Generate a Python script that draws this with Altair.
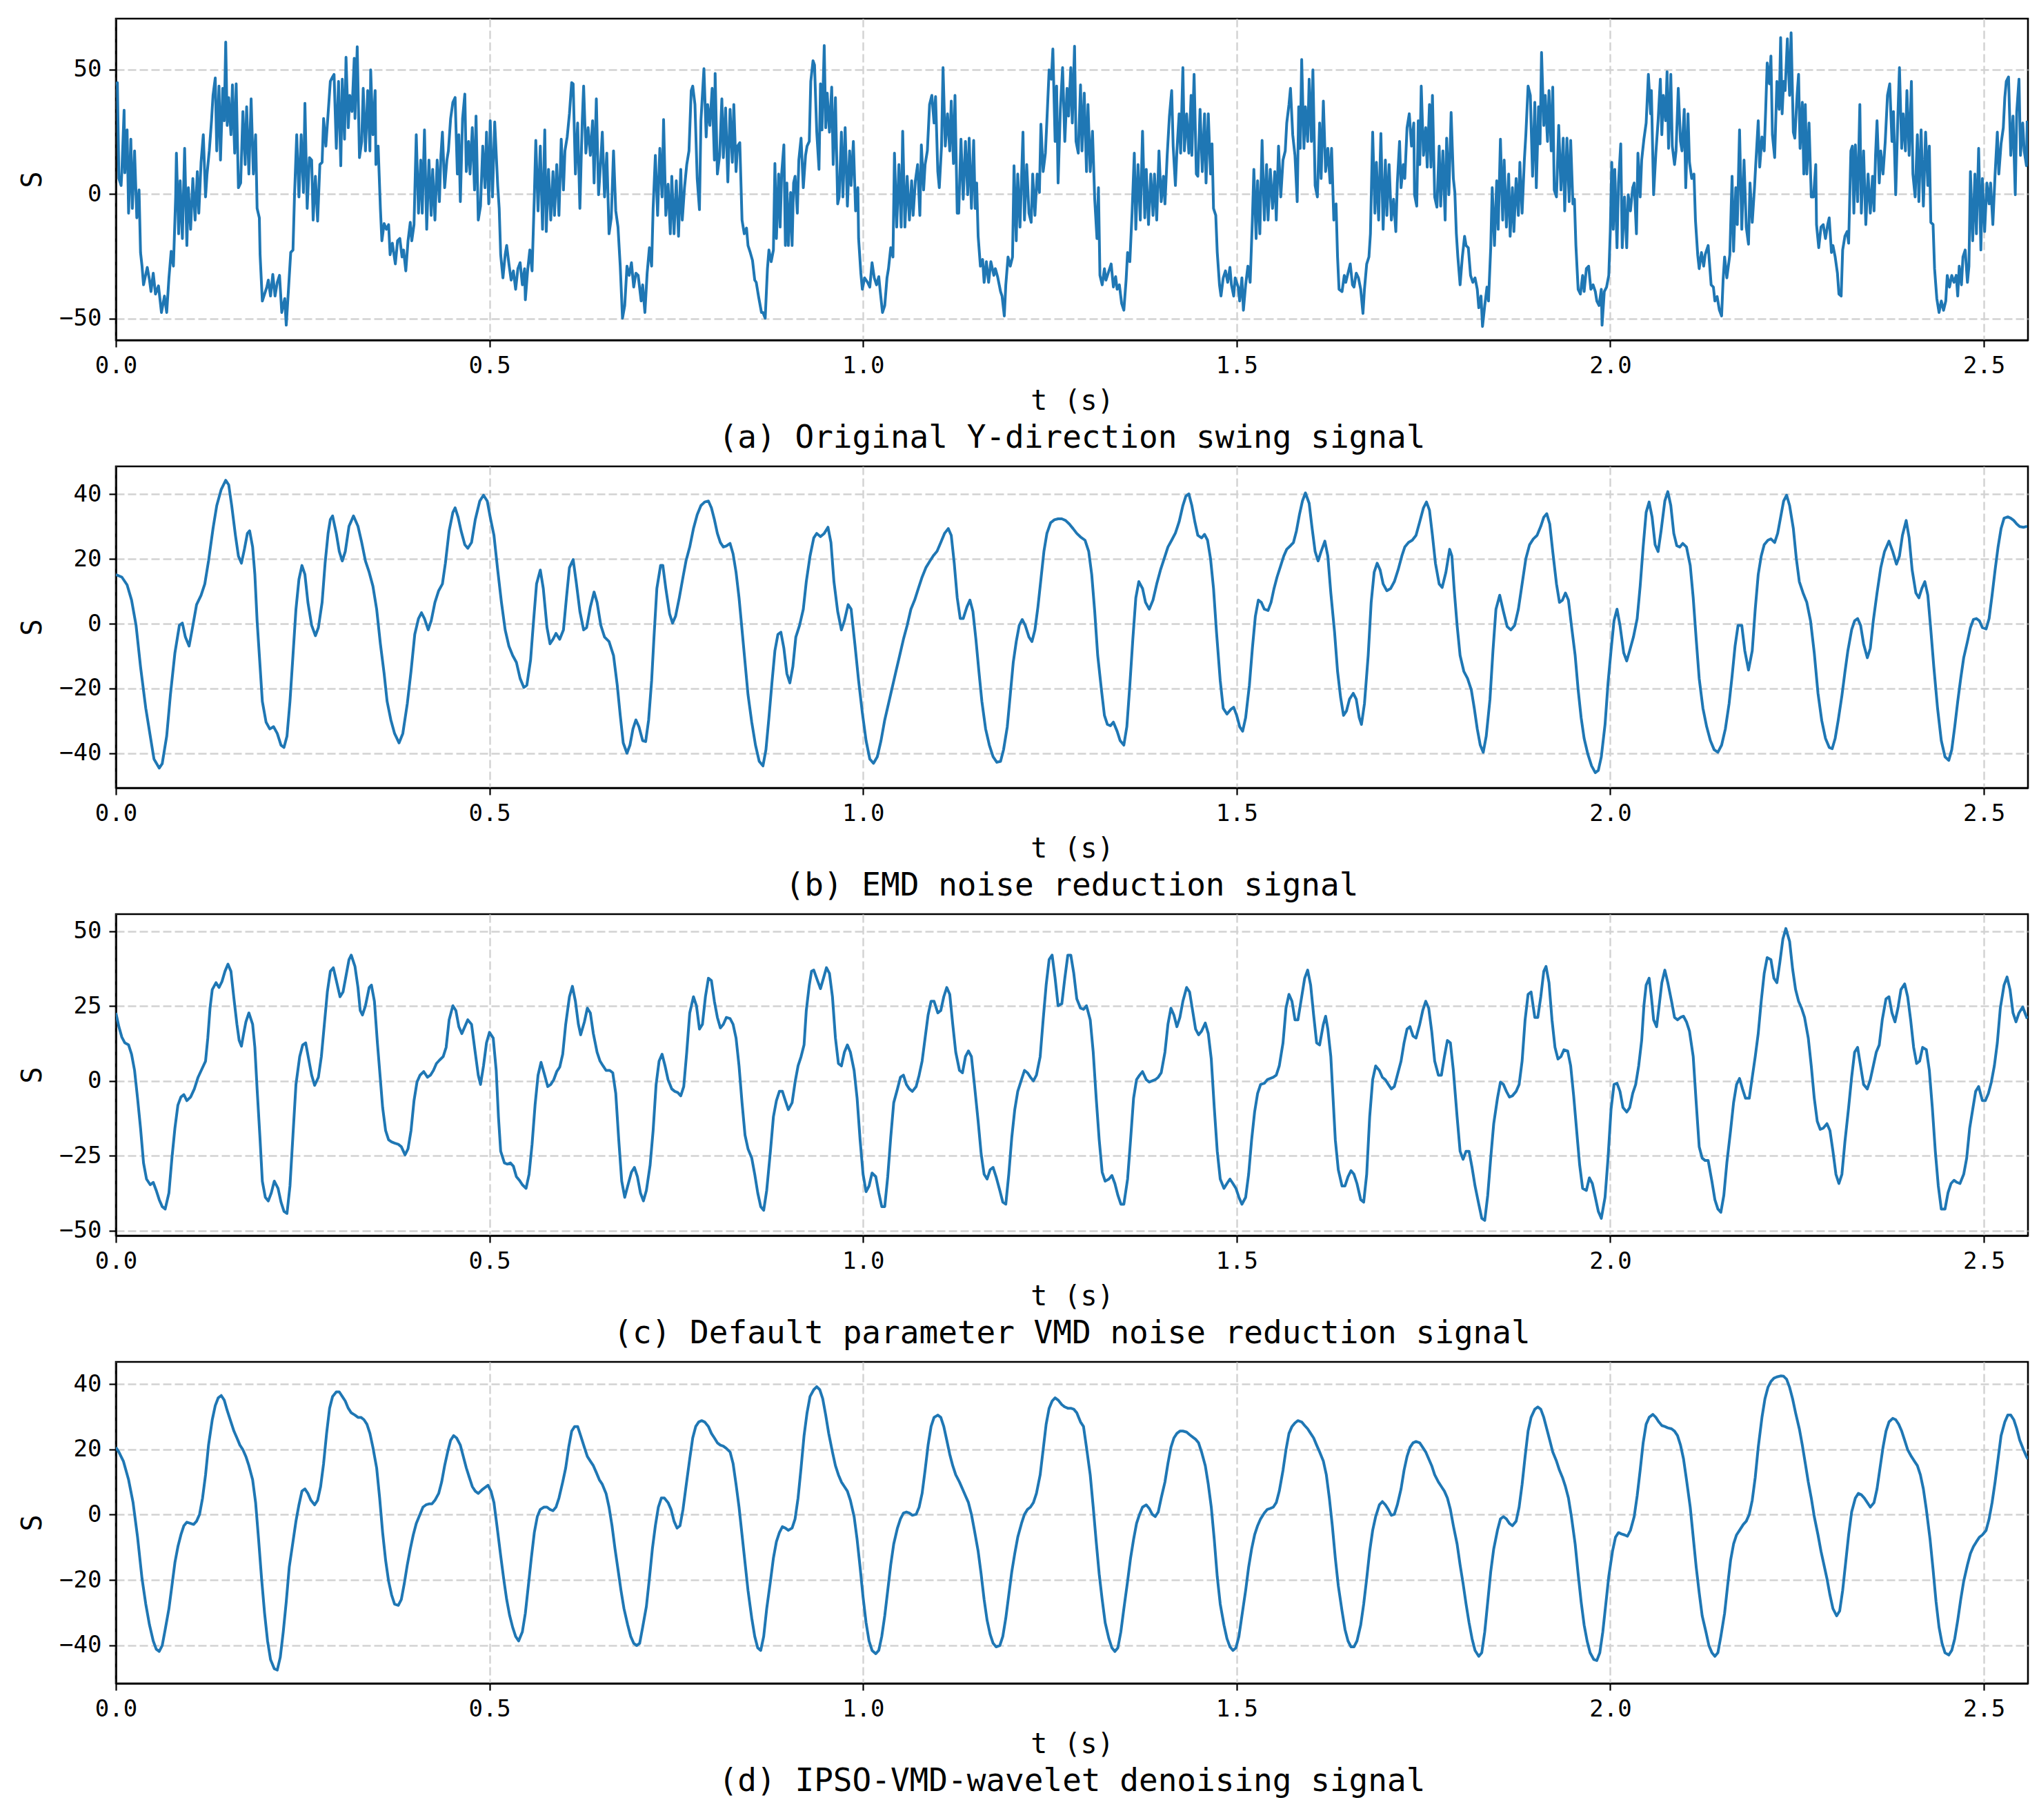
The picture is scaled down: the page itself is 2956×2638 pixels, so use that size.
import altair as alt
import pandas as pd

FONT = "DejaVu Sans Mono"
BLUE = "#1f77b4"
T_END = 2.559
X_TICKS = [0.0, 0.5, 1.0, 1.5, 2.0, 2.5]

# ---------------- (a) original signal: (t [s], S) ----------------
sig_a1 = [(0.0,44.0),(0.002,44.7),(0.004,6.2),(0.007,3.4),(0.008,9.0),(0.011,33.6),(0.012,8.5),(0.015,25.7),(0.017,-7.7),(0.020,22.0),(0.022,-5.8),(0.025,17.3),(0.028,-9.6),(0.031,1.6),(0.033,-23.5),(0.035,-29.0),(0.037,-36.5),(0.042,-29.5),(0.045,-34.6),(0.047,-39.2),(0.050,-31.8),(0.053,-40.2),(0.057,-36.9),(0.061,-47.6),(0.065,-41.0),(0.068,-47.6),(0.071,-33.7),(0.074,-23.0),(0.077,-29.0),(0.080,-1.2),(0.081,16.4),(0.084,-16.0),(0.086,5.3),(0.089,-17.9),(0.092,18.3),(0.095,-20.7),(0.097,2.5),(0.100,-14.2),(0.103,6.2),(0.106,-10.5),(0.109,9.0),(0.111,-7.7),(0.114,12.7),(0.117,23.8),(0.120,-1.2),(0.122,8.0),(0.125,17.3),(0.128,29.4),(0.130,39.6),(0.133,46.6),(0.135,17.3),(0.138,43.3),(0.140,13.6),(0.143,42.4),(0.145,29.4),(0.147,61.0),(0.149,27.5),(0.151,38.7),(0.154,23.8),(0.156,43.8),(0.159,16.4),(0.161,44.2),(0.164,2.5),(0.167,4.4),(0.170,33.1),(0.173,11.8),(0.175,35.0),(0.178,8.0),(0.181,38.2),(0.184,8.0),(0.187,23.8),(0.189,-5.8),(0.192,-9.6),(0.193,-24.4),(0.196,-43.0),(0.199,-40.2),(0.202,-37.4),(0.204,-34.6),(0.207,-41.0),(0.210,-32.3),(0.213,-41.0),(0.216,-35.5),(0.219,-32.7),(0.222,-47.6),(0.226,-42.0),(0.228,-52.7),(0.231,-38.3),(0.234,-23.5),(0.237,-22.5),(0.239,-1.2),(0.242,23.8),(0.245,-1.2),(0.248,23.8),(0.251,0.6),(0.253,36.4),(0.256,-5.8),(0.259,14.6),(0.262,13.6),(0.264,-10.5),(0.267,7.1),(0.270,-10.9),(0.273,11.8),(0.276,12.7),(0.278,30.3),(0.281,19.2),(0.284,32.2),(0.287,45.2),(0.290,47.0),(0.292,48.0),(0.295,18.3),(0.298,45.2),(0.301,11.3),(0.303,46.1),(0.306,22.0),(0.308,54.9),(0.311,26.6),(0.313,39.6),(0.316,33.1),(0.319,54.5),(0.320,30.3),(0.323,59.1),(0.326,14.6),(0.329,21.1),(0.331,42.4),(0.334,17.3),(0.337,41.5),(0.340,17.3),(0.341,49.8),(0.344,23.8),(0.347,41.5),(0.348,11.8),(0.351,19.2),(0.354,-5.8),(0.356,-18.8),(0.359,-11.9),(0.362,-14.2),(0.365,-12.3),(0.367,-24.4),(0.370,-19.8),(0.374,-28.1),(0.377,-18.8),(0.380,-17.9),(0.383,-25.3),(0.385,-22.5),(0.388,-30.9),(0.391,-18.8),(0.394,-11.4),(0.396,-18.8),(0.399,-12.3),(0.402,23.8),(0.405,-7.7),(0.408,13.6),(0.410,-7.7),(0.413,25.7),(0.416,-14.2),(0.419,13.6),(0.422,-8.6),(0.424,9.9),(0.427,-10.5),(0.430,13.6),(0.433,-3.1),(0.435,15.5),(0.437,24.8),(0.440,2.5),(0.443,13.6),(0.445,17.3),(0.448,30.3),(0.451,36.8),(0.454,38.7),(0.457,8.0),(0.459,23.8),(0.461,-3.1),(0.464,30.3),(0.467,40.1),(0.469,9.0),(0.472,21.1),(0.474,8.0),(0.477,26.6),(0.480,1.6),(0.482,31.3),(0.485,-10.5),(0.488,-4.9),(0.491,19.2),(0.494,2.5),(0.496,24.8),(0.499,-4.0),(0.501,29.4),(0.504,-1.2),(0.507,28.9),(0.511,3.4),(0.513,-5.8),(0.515,-24.4),(0.518,-33.7),(0.521,-24.4),(0.523,-20.7),(0.526,-28.1),(0.529,-34.6),(0.532,-30.9),(0.535,-38.3),(0.538,-30.0),(0.541,-27.6),(0.544,-36.5),(0.547,-30.0),(0.548,-42.5),(0.551,-30.9),(0.554,-22.5),(0.557,-30.9),(0.560,-1.2),(0.562,21.5),(0.565,-6.8),(0.568,19.2),(0.571,-14.2),(0.574,25.7),(0.576,-15.1),(0.579,9.9),(0.582,-10.5),(0.585,9.0),(0.587,-8.6),(0.590,11.8),(0.593,-8.6),(0.596,22.0),(0.599,1.6),(0.601,17.3),(0.604,22.9),(0.607,32.2),(0.610,44.7),(0.612,44.2),(0.615,8.0),(0.618,28.5),(0.621,-5.8),(0.624,28.0),(0.626,43.3),(0.629,16.4),(0.632,26.6),(0.635,15.5),(0.638,29.4),(0.640,4.4),(0.643,38.2),(0.646,-0.3),(0.649,13.6),(0.651,24.8),(0.654,-1.2),(0.657,16.4),(0.660,-16.0),(0.663,-9.6),(0.666,17.3),(0.669,-6.8),(0.672,-13.3),(0.675,-29.0),(0.678,-49.9),(0.681,-44.8),(0.684,-29.0),(0.687,-32.7),(0.690,-27.6),(0.693,-37.4),(0.696,-31.8),(0.699,-32.7),(0.703,-43.0),(0.705,-36.5),(0.708,-47.6),(0.711,-31.8),(0.714,-21.6),(0.717,-29.0),(0.719,-5.8),(0.722,15.5),(0.725,-8.6),(0.728,18.3),(0.731,-1.2),(0.733,29.9),(0.736,-8.6),(0.739,3.9),(0.742,-16.0),(0.744,7.1),(0.747,-16.0),(0.750,5.3),(0.753,-17.0),(0.756,9.9),(0.758,-10.5),(0.761,2.5),(0.764,11.8),(0.767,17.3),(0.770,41.5),(0.772,43.3),(0.775,35.9),(0.778,6.2),(0.781,-6.3),(0.783,29.4),(0.787,50.3),(0.790,22.9),(0.792,35.9),(0.795,27.5),(0.798,42.4),(0.801,13.6),(0.802,48.4),(0.805,8.0),(0.808,15.5),(0.811,38.2),(0.813,14.6),(0.816,34.5),(0.819,4.8),(0.822,34.0),(0.825,12.7),(0.827,35.9),(0.830,9.0),(0.832,19.2),(0.835,20.6),(0.838,-10.5),(0.841,-16.0),(0.844,-13.7),(0.846,-20.7),(0.849,-23.5),(0.852,-26.7),(0.855,-34.6),(0.857,-35.5),(0.860,-41.0),(0.864,-47.6)]
sig_a2 = [(0.866,-47.6),(0.869,-49.9),(0.872,-30.0),(0.874,-22.5),(0.877,-27.2),(0.880,-22.5),(0.882,12.2),(0.884,-17.9),(0.887,8.0),(0.889,-13.3),(0.891,8.0),(0.894,19.7),(0.896,-20.7),(0.898,4.4),(0.900,-20.7),(0.903,0.6),(0.905,-20.7),(0.907,4.4),(0.909,7.1),(0.912,-7.7),(0.914,13.6),(0.917,22.4),(0.920,2.5),(0.923,15.5),(0.925,19.2),(0.928,21.1),(0.930,45.2),(0.933,53.5),(0.935,51.8),(0.938,24.8),(0.941,9.9),(0.943,44.2),(0.945,25.7),(0.948,59.6),(0.950,26.6),(0.952,40.5),(0.955,24.8),(0.958,42.9),(0.960,11.8),(0.963,38.7),(0.966,-4.0),(0.968,-1.2),(0.971,24.8),(0.973,-1.2),(0.976,26.6),(0.979,-4.9),(0.982,17.3),(0.984,3.4),(0.987,21.1),(0.990,-6.8),(0.993,2.5),(0.994,-17.9),(0.997,-31.8),(0.999,-38.3),(1.002,-33.7),(1.006,-35.5),(1.009,-37.4),(1.012,-27.6),(1.015,-33.7),(1.018,-36.5),(1.021,-33.2),(1.023,-39.2),(1.026,-47.6),(1.029,-44.8),(1.032,-33.7),(1.034,-30.0),(1.037,-21.6),(1.040,-25.3),(1.042,16.4),(1.045,-13.3),(1.048,11.8),(1.051,-13.3),(1.053,25.2),(1.056,-13.3),(1.059,7.1),(1.062,-10.5),(1.065,5.3),(1.067,-8.6),(1.070,5.3),(1.073,11.8),(1.076,-8.6),(1.078,19.7),(1.081,1.6),(1.083,11.8),(1.086,17.3),(1.089,35.9),(1.092,39.6),(1.095,28.5),(1.097,39.1),(1.100,9.0),(1.102,2.5),(1.105,19.2),(1.107,50.7),(1.110,19.2),(1.113,32.2),(1.116,17.3),(1.118,37.3),(1.121,12.2),(1.123,39.6),(1.126,-7.7),(1.128,-7.7),(1.131,22.0),(1.134,-2.1),(1.137,21.1),(1.140,-0.3),(1.142,22.4),(1.145,-5.8),(1.148,21.5),(1.150,-5.8),(1.152,4.4),(1.154,-17.0),(1.157,-29.0),(1.160,-26.3),(1.162,-35.5),(1.165,-27.2),(1.168,-35.5),(1.171,-27.2),(1.175,-32.7),(1.177,-30.0),(1.180,-33.2),(1.184,-39.2),(1.186,-41.0),(1.189,-49.0),(1.191,-36.5),(1.194,-25.3),(1.197,-29.0),(1.200,-25.3),(1.202,11.3),(1.205,-18.8),(1.207,8.0),(1.210,-13.3),(1.214,24.8),(1.216,-10.5),(1.219,11.8),(1.222,-7.7),(1.225,-11.4),(1.227,8.0),(1.230,-8.6),(1.233,8.0),(1.236,0.6),(1.238,28.0),(1.241,9.0),(1.244,16.4),(1.246,29.4),(1.249,49.8),(1.252,46.1),(1.254,58.2),(1.257,21.1),(1.259,43.3),(1.261,4.4),(1.264,34.0),(1.267,50.7),(1.270,21.1),(1.273,42.4),(1.275,31.3),(1.278,50.7),(1.280,28.5),(1.283,59.3),(1.285,21.1),(1.288,16.4),(1.291,43.8),(1.293,17.3),(1.296,40.5),(1.299,9.0),(1.301,35.9),(1.304,9.0),(1.307,25.2),(1.310,-2.1),(1.313,-17.9),(1.315,2.5),(1.317,-32.7),(1.320,-36.5),(1.323,-30.0),(1.325,-34.6),(1.329,-30.9),(1.332,-28.1),(1.335,-37.4),(1.338,-33.2),(1.340,-38.3),(1.343,-36.5),(1.346,-43.9),(1.349,-46.7),(1.352,-34.6),(1.354,-23.5),(1.357,-27.2),(1.360,-7.7),(1.363,16.4),(1.365,-14.2),(1.368,11.8),(1.371,-10.5),(1.374,25.2),(1.377,-9.6),(1.379,9.9),(1.382,-12.3),(1.385,8.0),(1.388,-8.6),(1.390,8.0),(1.393,-10.5),(1.396,17.3),(1.399,-3.1),(1.402,7.1),(1.404,-4.0),(1.407,15.5),(1.410,31.3),(1.413,41.5),(1.415,19.2),(1.418,3.4),(1.420,17.3),(1.423,32.2),(1.425,16.4),(1.428,50.7),(1.430,17.3),(1.433,32.2),(1.436,16.4),(1.439,39.6),(1.440,15.5),(1.443,48.0),(1.446,8.0),(1.448,7.1),(1.451,34.0),(1.454,9.0),(1.457,32.2),(1.459,4.4),(1.462,32.2),(1.465,8.0),(1.467,20.1),(1.469,-5.8),(1.472,-8.6),(1.474,-23.5),(1.477,-36.5),(1.479,-41.0),(1.482,-33.7),(1.485,-30.9),(1.488,-35.5),(1.491,-29.5),(1.493,-36.5),(1.496,-41.0),(1.498,-33.7),(1.502,-37.4),(1.504,-43.0),(1.507,-33.7),(1.509,-46.7),(1.512,-36.5),(1.515,-29.0),(1.518,-35.5),(1.521,-10.5),(1.523,9.9),(1.526,-17.9),(1.528,5.3),(1.531,-16.0),(1.534,21.5),(1.537,-10.5),(1.540,11.8),(1.542,-10.5),(1.545,9.9),(1.548,-5.8),(1.551,9.0),(1.553,-10.5),(1.556,19.2),(1.559,-1.2),(1.562,13.6),(1.565,17.3),(1.567,28.5),(1.570,35.9),(1.572,42.4),(1.575,23.8),(1.578,15.5),(1.581,-3.1),(1.583,35.0),(1.585,18.3),(1.587,54.0),(1.590,18.3),(1.592,35.0),(1.595,21.1),(1.597,46.1),(1.600,21.1),(1.602,49.8),(1.605,3.4),(1.608,-1.2),(1.611,28.5),(1.613,6.2),(1.616,37.3),(1.619,9.0),(1.622,18.3),(1.625,4.4),(1.627,18.3),(1.630,-10.5),(1.633,-4.0),(1.635,-25.3),(1.637,-38.3),(1.641,-39.2),(1.644,-32.7),(1.646,-35.5),(1.649,-31.8),(1.652,-28.1),(1.655,-36.5),(1.657,-37.4),(1.660,-31.8),(1.663,-33.7),(1.666,-38.3),(1.669,-48.0),(1.671,-38.3),(1.674,-28.1),(1.677,-25.3),(1.679,-16.0),(1.682,24.8),(1.685,-7.7),(1.687,12.7),(1.690,-10.5),(1.693,24.3),(1.696,-14.2),(1.699,13.6),(1.701,-8.6),(1.704,11.8),(1.707,-10.5),(1.710,-2.1),(1.713,-15.1),(1.715,4.4),(1.718,21.1)]
sig_a3 = [(1.720,2.5),(1.723,11.8),(1.725,6.2),(1.728,26.6),(1.731,32.2),(1.734,19.2),(1.737,28.5),(1.738,-0.3),(1.741,-4.9),(1.743,29.4),(1.745,11.8),(1.747,43.3),(1.750,15.5),(1.753,26.6),(1.755,10.8),(1.758,35.9),(1.760,10.8),(1.762,39.6),(1.765,-1.2),(1.768,-5.3),(1.771,19.2),(1.773,-4.9),(1.776,17.3),(1.779,-10.5),(1.781,22.4),(1.784,-0.3),(1.787,32.7),(1.790,6.2),(1.792,0.6),(1.794,-16.0),(1.796,-25.3),(1.799,-36.5),(1.802,-25.3),(1.805,-17.0),(1.807,-20.7),(1.810,-21.6),(1.813,-32.7),(1.816,-35.5),(1.819,-33.7),(1.822,-38.3),(1.824,-45.7),(1.827,-41.0),(1.829,-53.2),(1.832,-44.8),(1.835,-37.4),(1.837,-43.0),(1.840,-21.6),(1.842,2.5),(1.845,-20.7),(1.848,5.3),(1.850,-14.2),(1.853,22.0),(1.856,-10.5),(1.858,13.6),(1.861,-13.3),(1.864,8.0),(1.866,-17.0),(1.869,2.5),(1.871,-15.1),(1.874,6.2),(1.877,-8.6),(1.879,12.7),(1.882,-7.7),(1.885,13.6),(1.887,23.8),(1.890,43.3),(1.893,39.6),(1.896,7.1),(1.899,36.8),(1.901,2.5),(1.904,35.0),(1.906,20.1),(1.908,56.8),(1.911,27.5),(1.913,39.6),(1.916,21.1),(1.918,41.5),(1.921,17.3),(1.923,42.9),(1.925,1.6),(1.928,-1.2),(1.931,27.5),(1.934,1.6),(1.937,22.4),(1.939,-6.8),(1.942,22.4),(1.945,-3.1),(1.947,21.5),(1.950,-4.0),(1.952,-2.1),(1.954,-20.7),(1.957,-38.3),(1.960,-40.2),(1.963,-32.7),(1.965,-39.2),(1.968,-30.0),(1.971,-29.0),(1.974,-38.3),(1.977,-36.5),(1.980,-39.2),(1.982,-43.0),(1.985,-44.8),(1.988,-38.3),(1.989,-52.7),(1.992,-39.2),(1.995,-37.4),(1.998,-32.7),(2.000,-15.1),(2.002,12.7),(2.004,-14.2),(2.006,9.9),(2.009,-21.6),(2.011,4.4),(2.014,20.1),(2.016,-21.6),(2.019,-1.2),(2.022,-21.6),(2.024,-0.3),(2.027,-6.8),(2.030,2.5),(2.032,4.4),(2.035,-16.0),(2.037,16.4),(2.040,-1.2),(2.042,13.6),(2.045,22.0),(2.048,28.5),(2.051,48.0),(2.054,32.2),(2.055,41.5),(2.058,-0.3),(2.061,16.4),(2.064,29.4),(2.067,46.1),(2.069,23.8),(2.071,39.6),(2.074,29.4),(2.076,49.1),(2.078,18.3),(2.081,48.0),(2.083,19.2),(2.086,11.8),(2.088,17.3),(2.091,42.4),(2.094,21.1),(2.096,17.3),(2.099,34.0),(2.101,2.5),(2.104,32.2),(2.106,12.7),(2.109,6.2),(2.112,8.0),(2.114,-10.5),(2.117,-24.4),(2.119,-30.0),(2.122,-23.5),(2.125,-29.0),(2.127,-24.4),(2.131,-20.7),(2.135,-36.5),(2.138,-37.4),(2.140,-43.0),(2.143,-41.2),(2.146,-46.6),(2.149,-49.0),(2.151,-34.6),(2.153,-25.3),(2.156,-33.7),(2.160,-24.4),(2.163,7.1),(2.165,-23.0),(2.168,2.5),(2.170,-12.3),(2.173,25.7),(2.176,-14.2),(2.179,13.6),(2.182,-13.3),(2.185,-20.2),(2.187,4.4),(2.190,-11.4),(2.193,2.5),(2.195,13.6),(2.198,29.4),(2.200,10.8),(2.203,22.9),(2.206,17.3),(2.208,34.0),(2.210,52.6),(2.213,44.2),(2.215,55.4),(2.217,23.8),(2.220,14.6),(2.223,45.2),(2.226,34.0),(2.228,62.8),(2.230,32.2),(2.232,45.2),(2.234,41.5),(2.237,62.3),(2.240,39.6),(2.242,64.7),(2.245,24.8),(2.247,22.4),(2.250,39.6),(2.252,48.0),(2.254,18.3),(2.257,36.8),(2.259,8.0),(2.261,35.9),(2.263,8.0),(2.266,28.5),(2.269,-1.2),(2.272,-1.2),(2.275,11.8),(2.276,-12.3),(2.279,-21.6),(2.282,-13.3),(2.285,-12.3),(2.288,-17.9),(2.291,-12.3),(2.293,-9.6),(2.296,-23.5),(2.298,-20.7),(2.301,-25.3),(2.304,-31.8),(2.306,-40.2),(2.309,-41.0),(2.311,-22.5),(2.314,-17.0),(2.317,-15.1),(2.319,-19.8),(2.322,17.3),(2.324,19.2),(2.326,-7.7),(2.328,19.7),(2.331,-3.1),(2.334,35.9),(2.336,-7.7),(2.339,17.3),(2.342,-12.3),(2.345,8.0),(2.348,-7.7),(2.351,7.1),(2.353,-6.8),(2.355,15.5),(2.357,29.4),(2.360,4.4),(2.362,17.3),(2.365,8.0),(2.368,21.1),(2.371,39.6),(2.374,44.2),(2.377,21.1),(2.379,33.1),(2.382,-0.3),(2.385,32.2),(2.387,50.7),(2.390,18.3),(2.392,32.2),(2.395,17.3),(2.397,41.5),(2.400,15.5),(2.403,45.2),(2.405,8.0),(2.408,-1.2),(2.411,23.8),(2.413,-3.1),(2.416,25.7),(2.419,-4.9),(2.422,24.8),(2.425,3.4),(2.427,19.2),(2.429,-11.4),(2.432,-12.3),(2.434,-30.0),(2.437,-42.0),(2.440,-47.6),(2.443,-43.0),(2.446,-46.7),(2.449,-43.0),(2.451,-32.7),(2.454,-37.4),(2.457,-32.7),(2.460,-35.5),(2.463,-32.7),(2.465,-41.0),(2.467,-29.0),(2.470,-36.5),(2.472,-25.3),(2.475,-22.5),(2.478,-35.5),(2.480,-29.0),(2.482,9.0),(2.485,-18.8),(2.488,8.0),(2.490,-16.0),(2.493,18.3),(2.496,-22.5),(2.498,6.2),(2.501,-15.1),(2.504,4.4),(2.507,-4.0),(2.509,4.4),(2.512,-12.3),(2.515,8.0),(2.518,24.8),(2.520,8.0),(2.523,20.1),(2.526,26.6),(2.528,38.7),(2.530,45.2),(2.533,47.0),(2.536,15.5),(2.539,31.3),(2.542,-0.3),(2.544,33.1),(2.547,46.1),(2.549,15.5),(2.552,28.5),(2.554,17.3),(2.557,11.3),(2.558,29.4)]

# ---------------- (b) EMD ----------------
sig_b1 = [(0.000,15.2),(0.008,14.4),(0.015,12.0),(0.021,7.3),(0.027,-0.5),(0.033,-13.3),(0.040,-26.1),(0.046,-34.7),(0.051,-41.8),(0.058,-44.6),(0.062,-43.2),(0.068,-34.7),(0.073,-21.9),(0.079,-9.0),(0.085,-0.5),(0.089,0.2),(0.093,-4.1),(0.098,-6.9),(0.102,-1.9),(0.108,5.9),(0.114,8.8),(0.119,12.3),(0.124,19.4),(0.130,29.4),(0.135,36.5),(0.141,41.5),(0.147,44.3),(0.151,42.9),(0.155,36.5),(0.160,27.3),(0.164,20.9),(0.168,18.7),(0.172,23.0),(0.176,27.9),(0.179,28.7),(0.183,23.7),(0.186,15.2),(0.189,0.9),(0.193,-13.3),(0.196,-24.0),(0.201,-30.4),(0.206,-32.5),(0.211,-31.8),(0.216,-33.9),(0.221,-37.5),(0.225,-38.2),(0.229,-34.7),(0.233,-24.0),(0.237,-9.8),(0.241,4.5),(0.245,13.7),(0.249,18.0),(0.253,15.2),(0.257,6.6),(0.262,-0.5),(0.267,-3.7),(0.271,-1.2),(0.276,6.6),(0.280,18.7),(0.284,27.9),(0.287,32.2),(0.290,33.3),(0.295,27.9),(0.299,22.3),(0.303,19.4),(0.307,22.3),(0.312,30.1),(0.318,33.3),(0.324,30.1),(0.329,25.1),(0.334,19.4),(0.339,15.9),(0.344,11.6),(0.349,4.5),(0.354,-6.2),(0.359,-15.4),(0.363,-24.0),(0.368,-29.7),(0.373,-33.9),(0.379,-36.8),(0.384,-33.9),(0.390,-24.7),(0.395,-14.7),(0.400,-3.3),(0.405,1.6),(0.409,3.4),(0.413,1.6),(0.418,-1.9),(0.422,0.9),(0.427,6.6),(0.432,10.2),(0.437,12.3),(0.441,18.7),(0.446,28.7),(0.451,34.4),(0.454,35.8),(0.458,32.9),(0.462,28.7),(0.467,24.4),(0.471,23.3),(0.476,25.1),(0.481,32.2),(0.487,37.9),(0.492,39.7),(0.497,37.9),(0.501,32.9),(0.506,27.3),(0.511,16.6),(0.516,6.6),(0.521,-1.9),(0.526,-6.9),(0.531,-9.8),(0.536,-11.9),(0.541,-16.9),(0.546,-19.7),(0.550,-19.0),(0.555,-11.2),(0.559,0.9),(0.563,12.3),(0.568,16.6),(0.572,10.9),(0.577,-1.2),(0.581,-6.2),(0.585,-4.8),(0.589,-3.0),(0.594,-4.8),(0.599,-1.9),(0.603,8.0),(0.607,17.3),(0.612,19.8),(0.616,13.0),(0.621,3.8),(0.626,-1.9),(0.630,-1.2),(0.635,5.2),(0.640,9.8),(0.644,6.6),(0.649,-0.5),(0.654,-4.1),(0.660,-5.5),(0.666,-9.8),(0.671,-19.0),(0.675,-28.3),(0.679,-36.8),(0.684,-40.0),(0.688,-37.5),(0.692,-32.5),(0.696,-29.7),(0.700,-31.8),(0.705,-36.1),(0.709,-36.4),(0.713,-29.7),(0.717,-17.6),(0.720,-4.8),(0.724,10.9),(0.729,18.0),(0.732,18.0),(0.736,10.9),(0.741,3.1),(0.745,0.2),(0.749,2.3),(0.754,8.0),(0.759,14.4),(0.763,19.4),(0.768,23.7),(0.773,29.4),(0.778,33.7),(0.783,36.5),(0.788,37.6),(0.793,37.9),(0.797,35.8),(0.801,32.2),(0.805,27.9),(0.809,25.1),(0.813,23.7),(0.817,24.0),(0.822,24.8),(0.826,21.6),(0.830,15.9),(0.834,8.0),(0.838,-1.9),(0.842,-11.9),(0.846,-21.9),(0.851,-30.4),(0.856,-37.5),(0.861,-42.5),(0.866,-43.9),(0.870,-38.9),(0.874,-29.0),(0.878,-18.3),(0.882,-8.3),(0.886,-3.3),(0.890,-2.6),(0.894,-7.6),(0.898,-15.4),(0.902,-18.3),(0.906,-13.3),(0.910,-4.1),(0.915,-0.5),(0.920,4.5),(0.924,13.0),(0.929,20.9),(0.934,26.5),(0.938,27.9),(0.943,26.9),(0.948,27.9),(0.953,29.8),(0.957,25.1),(0.961,13.0),(0.966,3.8),(0.971,-1.9),(0.975,0.9),(0.980,5.9),(0.984,4.5),(0.989,-6.2),(0.994,-17.6),(0.999,-27.5),(1.004,-36.1),(1.009,-41.8),(1.014,-43.1),(1.019,-41.1),(1.024,-36.1),(1.029,-29.7),(1.034,-24.7),(1.039,-19.7),(1.044,-14.7),(1.049,-9.8),(1.054,-4.8),(1.059,-0.5),(1.064,4.5),(1.069,7.3),(1.074,10.9),(1.079,14.4),(1.084,17.3),(1.089,19.2),(1.094,21.0),(1.099,22.4),(1.104,25.1),(1.109,27.9),(1.114,29.4),(1.118,27.3),(1.122,18.7),(1.126,8.0),(1.130,1.6),(1.134,1.6),(1.139,5.2),(1.143,7.3),(1.147,3.8),(1.151,-4.8),(1.155,-14.7),(1.159,-24.0),(1.164,-32.5),(1.169,-37.5),(1.174,-41.1),(1.179,-42.8),(1.184,-42.5),(1.188,-38.9),(1.193,-31.8),(1.197,-21.9),(1.201,-11.9),(1.205,-5.5),(1.209,-0.5),(1.213,1.3),(1.217,-0.5),(1.222,-4.1),(1.226,-5.5),(1.230,-1.9),(1.234,5.2),(1.238,13.7),(1.242,22.3),(1.246,27.9),(1.251,31.2),(1.256,32.1),(1.261,32.4),(1.266,32.4),(1.271,31.9),(1.276,30.8),(1.281,29.4),(1.286,27.9),(1.291,26.8)]
sig_b2 = [(1.297,25.8),(1.302,22.3),(1.306,15.2),(1.310,3.8),(1.314,-9.8),(1.319,-20.4),(1.323,-28.3),(1.327,-31.1),(1.331,-31.5),(1.335,-30.4),(1.340,-33.2),(1.344,-36.1),(1.349,-37.5),(1.353,-31.8),(1.357,-19.0),(1.361,-4.8),(1.365,8.0),(1.369,13.0),(1.374,10.9),(1.378,6.6),(1.383,4.5),(1.388,7.3),(1.393,12.3),(1.398,16.6),(1.403,20.1),(1.408,23.7),(1.413,25.8),(1.418,28.0),(1.423,31.5),(1.428,36.5),(1.432,39.4),(1.436,40.1),(1.440,36.5),(1.444,31.5),(1.448,27.3),(1.453,26.5),(1.457,27.6),(1.461,25.8),(1.465,20.1),(1.469,10.9),(1.473,-2.6),(1.478,-17.6),(1.482,-26.1),(1.487,-27.9),(1.492,-26.5),(1.496,-25.8),(1.500,-28.3),(1.504,-31.8),(1.508,-33.2),(1.512,-29.0),(1.517,-19.0),(1.521,-7.6),(1.525,2.3),(1.529,7.3),(1.533,6.6),(1.537,4.5),(1.542,4.1),(1.546,6.6),(1.550,10.9),(1.554,14.4),(1.559,18.0),(1.563,20.9),(1.567,23.0),(1.572,24.1),(1.576,25.1),(1.580,28.7),(1.584,33.7),(1.588,37.9),(1.592,40.4),(1.597,37.2),(1.601,29.4),(1.605,22.3),(1.609,19.4),(1.613,22.3),(1.618,25.5),(1.622,20.9),(1.626,9.5),(1.631,-2.6),(1.635,-14.7),(1.639,-22.6),(1.643,-28.3),(1.647,-26.9),(1.651,-23.3),(1.656,-21.5),(1.660,-23.3),(1.664,-29.0),(1.667,-31.1),(1.671,-24.7),(1.676,-9.8),(1.680,6.6),(1.684,15.9),(1.688,18.7),(1.692,16.6),(1.696,12.3),(1.701,10.2),(1.706,10.9),(1.711,13.0),(1.716,16.6),(1.721,20.9),(1.725,23.7),(1.730,25.1),(1.735,25.8),(1.740,27.3),(1.745,31.5),(1.750,35.8),(1.754,37.6),(1.758,35.1),(1.762,27.3),(1.766,18.7),(1.771,12.3),(1.775,11.2),(1.780,15.9),(1.785,23.0),(1.788,20.9),(1.791,10.9),(1.795,-0.5),(1.799,-9.8),(1.804,-14.7),(1.809,-16.9),(1.814,-20.4),(1.818,-26.1),(1.822,-32.5),(1.826,-37.5),(1.830,-39.7),(1.834,-34.7),(1.839,-23.3),(1.843,-8.3),(1.847,4.5),(1.852,8.8),(1.857,3.8),(1.862,-0.9),(1.867,-1.9),(1.872,-0.5),(1.877,4.5),(1.882,12.3),(1.887,20.1),(1.892,24.4),(1.897,26.2),(1.902,27.3),(1.907,30.1),(1.911,32.9),(1.915,34.0),(1.919,30.8),(1.923,22.3),(1.928,12.3),(1.932,6.6),(1.936,7.3),(1.940,9.5),(1.944,7.3),(1.948,-0.5),(1.953,-9.8),(1.957,-20.4),(1.961,-29.0),(1.965,-35.4),(1.970,-40.3),(1.975,-43.9),(1.980,-46.0),(1.984,-45.3),(1.988,-41.1),(1.993,-31.1),(1.997,-18.3),(2.001,-8.3),(2.005,0.9),(2.009,4.5),(2.013,-0.5),(2.018,-9.0),(2.022,-11.5),(2.026,-8.3),(2.031,-4.1),(2.036,1.6),(2.040,11.6),(2.044,23.7),(2.048,34.4),(2.052,37.6),(2.056,32.9),(2.060,24.4),(2.064,22.3),(2.068,28.7),(2.073,37.9),(2.077,40.8),(2.081,36.5),(2.085,27.9),(2.089,24.1),(2.093,23.7),(2.097,24.8),(2.102,23.7),(2.107,18.0),(2.111,8.0),(2.115,-4.8),(2.119,-16.9),(2.124,-26.1),(2.129,-31.8),(2.134,-36.1),(2.139,-38.9),(2.144,-39.7),(2.149,-37.5),(2.154,-32.5),(2.159,-24.7),(2.163,-16.2),(2.167,-6.9),(2.171,-0.5),(2.176,-0.5),(2.180,-8.3),(2.185,-14.3),(2.190,-8.3),(2.194,4.5),(2.198,15.2),(2.202,20.9),(2.206,24.4),(2.211,25.8),(2.215,26.2),(2.220,25.1),(2.224,27.9),(2.228,32.9),(2.232,37.9),(2.236,39.7),(2.240,36.5),(2.245,29.4),(2.249,20.1),(2.253,13.0),(2.258,9.5),(2.263,6.6),(2.268,0.9),(2.273,-9.0),(2.278,-21.5),(2.283,-29.9),(2.288,-35.4),(2.293,-38.2),(2.297,-38.6),(2.301,-35.4),(2.305,-29.9),(2.310,-22.2),(2.314,-15.0),(2.318,-8.3),(2.323,-1.9),(2.327,0.9),(2.331,1.6),(2.335,-0.5),(2.339,-6.2),(2.344,-10.5),(2.348,-7.6),(2.352,0.9),(2.357,9.5),(2.362,17.3),(2.367,22.3),(2.373,25.5),(2.378,22.3),(2.383,18.4),(2.387,20.9),(2.391,27.3),(2.396,31.9),(2.400,26.5),(2.404,16.6),(2.409,9.5),(2.413,8.0),(2.417,10.9),(2.421,13.0),(2.425,8.8),(2.429,-1.9),(2.433,-13.3),(2.438,-26.1),(2.443,-36.1),(2.448,-41.1),(2.453,-42.2),(2.457,-38.9),(2.461,-31.8),(2.465,-24.0),(2.469,-16.9),(2.473,-10.5),(2.478,-5.5),(2.482,-1.2),(2.486,1.3),(2.490,1.6),(2.494,0.9),(2.498,-1.2),(2.503,-1.6),(2.507,1.6),(2.511,8.8),(2.515,16.6),(2.519,23.7),(2.523,29.4),(2.527,32.6),(2.532,33.0),(2.536,32.6),(2.540,31.9),(2.544,30.8),(2.548,30.0),(2.553,29.8),(2.558,30.1)]

# ---------------- (c) default VMD ----------------
sig_c1 = [(0.000,22.7),(0.004,18.1),(0.008,14.6),(0.012,12.7),(0.017,12.0),(0.021,8.9),(0.025,3.5),(0.029,-5.8),(0.033,-15.8),(0.037,-27.4),(0.041,-32.8),(0.046,-34.7),(0.050,-33.9),(0.054,-36.6),(0.058,-39.7),(0.062,-42.0),(0.066,-42.8),(0.071,-37.4),(0.075,-25.8),(0.079,-15.8),(0.083,-8.1),(0.087,-5.4),(0.091,-4.6),(0.095,-6.6),(0.100,-5.4),(0.105,-2.7),(0.110,1.2),(0.115,3.9),(0.120,6.6),(0.123,14.3),(0.126,24.3),(0.129,30.5),(0.134,32.8),(0.138,31.2),(0.142,33.2),(0.146,36.6),(0.150,39.0),(0.154,36.6),(0.158,27.5),(0.162,18.9),(0.165,13.5),(0.168,11.6),(0.171,15.8),(0.174,19.7),(0.178,22.7),(0.183,18.9),(0.186,11.2),(0.189,-2.7),(0.193,-19.7),(0.196,-33.5),(0.200,-38.9),(0.204,-40.1),(0.208,-37.4),(0.212,-33.5),(0.217,-35.9),(0.221,-40.5),(0.225,-43.6),(0.229,-44.3),(0.233,-35.1),(0.237,-18.1),(0.241,-1.2),(0.246,8.1),(0.250,12.0),(0.254,12.7),(0.258,7.3),(0.262,1.9),(0.266,-1.5),(0.271,1.2),(0.275,8.1),(0.279,18.9),(0.283,29.7),(0.287,36.6),(0.291,37.8),(0.295,33.5),(0.300,28.1),(0.304,29.7),(0.308,35.1),(0.312,40.5),(0.315,42.0),(0.320,38.2),(0.324,31.2),(0.327,23.5),(0.330,22.0),(0.334,25.1),(0.339,31.2),(0.342,32.0),(0.346,26.6),(0.350,12.7),(0.354,0.4),(0.357,-8.9),(0.361,-16.6),(0.365,-19.7),(0.369,-20.4),(0.373,-20.8),(0.378,-21.2),(0.382,-22.0),(0.387,-24.7),(0.391,-22.7),(0.395,-16.6),(0.399,-6.6),(0.403,-0.4),(0.407,1.9),(0.412,3.1),(0.417,1.2),(0.421,1.9),(0.425,3.5),(0.429,5.8),(0.433,6.9),(0.438,8.1),(0.442,11.2),(0.446,20.4),(0.451,25.1),(0.455,23.5),(0.459,18.1),(0.463,15.8),(0.467,18.1),(0.471,20.4),(0.476,18.9),(0.480,11.2),(0.485,1.9),(0.488,-1.2),(0.492,5.0),(0.496,12.7),(0.500,16.2),(0.505,14.3),(0.509,3.5),(0.512,-12.0),(0.515,-23.5),(0.520,-27.4),(0.524,-27.8),(0.528,-27.4),(0.532,-28.5),(0.536,-32.0),(0.540,-33.2),(0.544,-34.7),(0.549,-35.9),(0.553,-31.2),(0.557,-21.2),(0.561,-8.1),(0.565,1.9),(0.569,6.2),(0.573,2.7),(0.578,-1.9),(0.582,-1.2),(0.586,0.4),(0.590,3.1),(0.594,4.6),(0.598,8.9),(0.602,18.9),(0.607,28.1),(0.611,31.6),(0.615,26.6),(0.619,18.9),(0.622,15.4),(0.627,19.7),(0.631,24.3),(0.635,22.7),(0.639,15.8),(0.644,9.6),(0.648,6.6),(0.652,5.0),(0.656,3.5),(0.661,3.5),(0.665,2.7),(0.669,-4.2),(0.673,-19.7),(0.677,-33.5),(0.681,-38.9),(0.685,-35.1),(0.690,-30.5),(0.694,-28.9),(0.698,-32.0),(0.702,-37.4),(0.706,-40.1),(0.710,-36.6),(0.715,-28.1),(0.719,-16.6),(0.723,-1.2),(0.727,6.6),(0.731,8.9),(0.735,5.0),(0.739,0.4),(0.744,-2.7),(0.748,-3.5),(0.752,-3.9),(0.756,-5.0),(0.760,-1.9),(0.764,9.6),(0.768,22.7),(0.773,28.1),(0.777,25.1),(0.781,17.3),(0.785,18.9),(0.789,28.1),(0.793,34.3),(0.797,33.5),(0.801,26.6),(0.805,21.2),(0.809,17.7),(0.813,18.9),(0.817,21.2),(0.822,20.8),(0.826,18.9),(0.830,14.3),(0.834,5.0),(0.838,-7.3),(0.842,-18.1),(0.846,-22.7),(0.851,-25.8),(0.855,-31.2),(0.859,-37.4),(0.863,-42.0),(0.867,-43.2),(0.871,-36.6),(0.876,-23.5),(0.880,-12.0),(0.884,-6.6),(0.888,-3.5),(0.892,-3.5),(0.896,-6.6),(0.900,-9.6),(0.905,-7.3),(0.909,-0.4),(0.913,5.0),(0.917,8.1),(0.921,12.0),(0.924,23.5),(0.928,32.0),(0.931,36.6),(0.934,37.0),(0.939,33.5),(0.943,30.8),(0.947,34.3),(0.951,37.8),(0.955,35.9),(0.959,28.1),(0.963,14.3),(0.967,5.8),(0.971,5.0),(0.975,9.6),(0.979,12.0),(0.983,9.6),(0.988,3.5),(0.992,-5.8),(0.996,-19.7),(1.000,-31.2),(1.004,-37.0),(1.008,-35.1),(1.012,-30.8),(1.017,-32.0),(1.021,-37.4),(1.025,-42.0),(1.029,-42.0),(1.033,-32.0),(1.037,-18.9),(1.041,-7.3),(1.046,-2.7),(1.050,1.2),(1.054,1.9),(1.058,-1.2),(1.062,-2.7),(1.066,-3.5),(1.071,-1.9),(1.075,1.9),(1.079,6.6),(1.083,14.3),(1.087,22.0),(1.091,26.6),(1.095,26.6),(1.100,22.7),(1.104,23.5),(1.108,28.1),(1.112,31.2),(1.116,28.9),(1.120,18.9),(1.124,9.6),(1.129,3.5),(1.133,2.7),(1.137,8.1),(1.141,10.0),(1.145,8.1),(1.149,-1.2),(1.154,-13.5),(1.158,-24.3),(1.162,-31.2),(1.166,-32.8),(1.170,-29.7),(1.174,-28.9),(1.178,-32.0),(1.183,-36.6),(1.187,-40.5),(1.191,-41.2),(1.195,-31.2),(1.199,-18.9),(1.203,-9.6),(1.207,-3.5),(1.212,0.4),(1.216,3.5),(1.220,2.7),(1.224,1.2),(1.228,0.0),(1.232,1.9),(1.237,8.1),(1.241,20.4),(1.245,32.0),(1.249,40.5),(1.253,42.0),(1.257,34.3),(1.261,25.1),(1.266,25.8),(1.270,34.3),(1.274,42.0),(1.278,42.0),(1.282,35.9),(1.286,27.4),(1.291,24.3)]
sig_c2 = [(1.295,23.9),(1.299,25.1),(1.304,20.4),(1.308,9.6),(1.312,-5.8),(1.316,-19.7),(1.320,-30.5),(1.324,-33.5),(1.329,-32.8),(1.333,-31.6),(1.337,-34.3),(1.341,-38.2),(1.345,-41.2),(1.349,-41.2),(1.354,-32.8),(1.358,-19.7),(1.362,-5.8),(1.366,0.4),(1.370,1.9),(1.374,3.1),(1.379,0.4),(1.383,-0.4),(1.387,0.0),(1.391,0.4),(1.395,1.2),(1.399,2.7),(1.404,9.6),(1.408,18.9),(1.412,24.3),(1.416,22.0),(1.420,18.1),(1.424,21.2),(1.428,26.6),(1.433,31.2),(1.437,29.7),(1.441,23.5),(1.445,17.3),(1.449,15.4),(1.453,16.6),(1.458,19.3),(1.462,15.8),(1.466,7.3),(1.470,-8.9),(1.474,-23.5),(1.478,-32.8),(1.483,-35.9),(1.487,-34.3),(1.491,-32.8),(1.495,-34.3),(1.499,-35.9),(1.503,-38.9),(1.507,-41.2),(1.512,-38.9),(1.516,-31.2),(1.520,-19.7),(1.524,-10.4),(1.528,-4.2),(1.532,-1.2),(1.537,-0.8),(1.541,0.4),(1.545,0.8),(1.549,1.2),(1.553,1.9),(1.557,5.0),(1.562,12.7),(1.566,24.3),(1.570,28.9),(1.574,26.6),(1.578,20.4),(1.582,20.4),(1.587,28.1),(1.591,34.3),(1.595,37.0),(1.599,32.0),(1.603,22.0),(1.607,12.7),(1.611,12.0),(1.616,18.9),(1.619,21.6),(1.622,17.3),(1.626,8.1),(1.629,-5.8),(1.632,-19.7),(1.636,-29.7),(1.641,-35.1),(1.645,-35.1),(1.649,-32.0),(1.653,-30.0),(1.657,-31.2),(1.661,-34.3),(1.666,-39.7),(1.670,-40.5),(1.674,-31.2),(1.678,-12.0),(1.682,0.4),(1.686,5.0),(1.691,3.5),(1.695,1.2),(1.699,0.4),(1.703,-1.2),(1.707,-2.7),(1.711,-1.9),(1.715,1.9),(1.720,6.6),(1.724,12.7),(1.728,17.3),(1.732,18.1),(1.736,15.0),(1.740,14.3),(1.745,18.9),(1.749,23.5),(1.753,26.6),(1.757,24.3),(1.761,16.6),(1.765,6.6),(1.770,1.9),(1.774,1.9),(1.778,8.1),(1.782,13.5),(1.786,12.7),(1.790,3.5),(1.795,-12.0),(1.799,-23.5),(1.803,-26.2),(1.807,-23.5),(1.811,-23.5),(1.815,-28.9),(1.819,-35.1),(1.824,-41.2),(1.828,-45.9),(1.832,-46.6),(1.836,-38.2),(1.840,-25.8),(1.844,-14.3),(1.849,-5.8),(1.853,-0.4),(1.857,-1.2),(1.861,-3.5),(1.865,-5.4),(1.869,-5.0),(1.874,-3.5),(1.878,-1.2),(1.882,6.6),(1.886,20.4),(1.890,28.9),(1.894,29.7),(1.899,21.2),(1.903,21.2),(1.907,28.1),(1.911,36.6),(1.914,38.2),(1.918,32.8),(1.922,20.4),(1.926,11.2),(1.930,7.3),(1.934,8.1),(1.938,10.4),(1.943,10.0),(1.947,5.0),(1.951,-5.0),(1.955,-16.6),(1.959,-28.1),(1.963,-35.9),(1.968,-36.6),(1.972,-32.4),(1.976,-34.3),(1.980,-38.9),(1.984,-43.6),(1.988,-45.9),(1.993,-38.9),(1.997,-25.8),(2.001,-9.6),(2.005,-1.2),(2.009,-0.8),(2.013,-3.5),(2.017,-8.9),(2.022,-10.4),(2.026,-8.9),(2.030,-4.2),(2.034,-1.2),(2.038,5.0),(2.042,13.5),(2.045,25.1),(2.048,32.0),(2.052,34.3),(2.055,28.1),(2.058,20.4),(2.062,18.1),(2.065,24.3),(2.069,32.8),(2.073,37.0),(2.077,32.8),(2.082,26.6),(2.086,21.2),(2.090,20.4),(2.094,21.2),(2.098,21.6),(2.102,19.7),(2.106,16.6),(2.111,8.1),(2.115,-7.3),(2.119,-22.0),(2.123,-25.8),(2.127,-26.6),(2.131,-26.6),(2.136,-33.5),(2.140,-39.7),(2.144,-42.8),(2.148,-43.9),(2.152,-38.2),(2.156,-27.4),(2.161,-16.6),(2.165,-7.3),(2.169,-1.2),(2.173,0.8),(2.177,-2.7),(2.181,-5.8),(2.186,-5.8),(2.190,1.2),(2.194,8.1),(2.198,15.8),(2.202,26.6),(2.206,35.9),(2.210,41.2),(2.215,40.5),(2.219,34.3),(2.223,32.8),(2.227,39.7),(2.231,47.4),(2.235,50.9),(2.240,46.6),(2.244,37.4),(2.248,30.5),(2.252,26.6),(2.256,24.3),(2.260,21.2),(2.265,14.3),(2.269,5.0),(2.273,-5.8),(2.277,-13.5),(2.281,-16.2),(2.285,-15.8),(2.290,-14.3),(2.294,-16.6),(2.298,-23.5),(2.302,-31.2),(2.306,-34.3),(2.310,-31.2),(2.314,-20.4),(2.319,-8.9),(2.323,1.2),(2.327,9.6),(2.331,11.2),(2.335,5.0),(2.339,-1.2),(2.344,-2.7),(2.348,0.4),(2.352,5.0),(2.356,9.6),(2.360,12.0),(2.364,20.4),(2.369,27.4),(2.373,28.1),(2.377,22.7),(2.381,19.7),(2.385,24.3),(2.389,30.5),(2.394,32.4),(2.398,28.1),(2.402,20.4),(2.406,11.2),(2.410,5.8),(2.414,6.6),(2.418,11.2),(2.423,10.4),(2.427,3.5),(2.431,-8.9),(2.435,-23.5),(2.439,-35.1),(2.443,-42.8),(2.448,-42.8),(2.452,-37.4),(2.456,-34.3),(2.460,-33.2),(2.464,-33.9),(2.468,-34.3),(2.473,-31.2),(2.477,-25.8),(2.481,-15.8),(2.485,-9.6),(2.489,-3.5),(2.493,-1.9),(2.498,-6.6),(2.502,-6.6),(2.506,-4.2),(2.510,-0.4),(2.514,5.0),(2.518,12.7),(2.522,24.3),(2.527,32.0),(2.531,34.7),(2.535,30.5),(2.539,22.7),(2.543,19.7),(2.547,22.7),(2.552,24.7),(2.556,22.0),(2.558,20.8)]

# ---------------- (d) IPSO-VMD-wavelet ----------------
sig_d1 = [(0.000,20.6),(0.004,19.2),(0.010,16.4),(0.017,10.7),(0.023,3.7),(0.029,-6.9),(0.035,-19.6),(0.040,-27.4),(0.045,-33.8),(0.050,-38.7),(0.054,-41.2),(0.058,-41.9),(0.062,-40.1),(0.066,-35.2),(0.071,-28.8),(0.075,-21.8),(0.079,-14.7),(0.083,-9.8),(0.087,-6.2),(0.091,-3.4),(0.095,-2.3),(0.100,-2.7),(0.104,-3.0),(0.108,-2.0),(0.112,0.1),(0.116,5.1),(0.120,12.2),(0.124,21.3),(0.129,29.1),(0.133,33.4),(0.137,35.8),(0.141,36.5),(0.145,35.1),(0.149,31.9),(0.154,28.4),(0.158,25.6),(0.162,23.5),(0.166,21.3),(0.170,19.9),(0.174,17.8),(0.178,15.0),(0.183,10.7),(0.187,3.7),(0.191,-7.6),(0.195,-19.6),(0.199,-30.2),(0.203,-38.7),(0.207,-44.4),(0.212,-47.2),(0.216,-47.6),(0.220,-43.7),(0.224,-35.9),(0.228,-26.7),(0.232,-16.1),(0.237,-8.3),(0.241,-2.0),(0.245,3.0),(0.249,7.2),(0.253,7.9),(0.257,6.5),(0.261,4.4),(0.266,3.0),(0.270,4.4),(0.274,8.6),(0.278,15.7),(0.282,24.9),(0.286,32.6),(0.290,36.2),(0.295,37.6),(0.299,37.6),(0.303,36.2),(0.307,34.8),(0.311,32.6),(0.315,31.2),(0.320,30.5),(0.324,29.8),(0.328,29.8),(0.332,29.1),(0.336,27.7),(0.340,24.9),(0.344,20.6),(0.349,14.3),(0.353,5.1),(0.357,-5.5),(0.361,-14.0),(0.365,-20.4),(0.369,-24.6),(0.373,-27.4),(0.378,-27.8),(0.382,-26.0),(0.386,-21.1),(0.390,-15.4),(0.394,-10.5),(0.398,-6.2),(0.402,-2.7),(0.407,0.1),(0.411,2.3),(0.415,3.0),(0.419,3.3),(0.423,3.3),(0.427,4.4),(0.432,6.5),(0.436,10.0),(0.440,15.0),(0.444,19.2),(0.448,22.8),(0.452,24.2),(0.456,23.5),(0.461,21.3),(0.465,17.8),(0.469,14.3),(0.473,11.4),(0.477,8.6),(0.481,7.2),(0.485,6.5),(0.490,7.6),(0.494,8.3),(0.498,9.0),(0.502,7.2),(0.506,3.7),(0.510,-3.4),(0.515,-12.6),(0.519,-19.6),(0.523,-26.0),(0.527,-30.9),(0.531,-34.5),(0.535,-37.3),(0.539,-38.7),(0.544,-35.9),(0.548,-30.2),(0.552,-21.8),(0.556,-13.3),(0.560,-5.5),(0.564,-0.6),(0.568,1.6),(0.573,2.3),(0.577,2.3),(0.581,1.6),(0.585,1.2),(0.589,2.3),(0.593,5.1),(0.598,10.0),(0.602,14.3),(0.606,20.6),(0.610,25.6),(0.614,27.0),(0.618,27.0),(0.622,24.2),(0.627,20.6),(0.631,17.8),(0.635,16.4),(0.639,15.0),(0.643,12.9),(0.647,10.7),(0.651,9.3),(0.656,6.5),(0.660,2.3),(0.664,-3.4),(0.668,-10.5),(0.672,-16.8),(0.676,-23.2),(0.680,-28.8),(0.685,-33.8),(0.689,-37.3),(0.693,-39.4),(0.697,-40.1),(0.701,-39.4),(0.705,-34.5),(0.710,-28.1),(0.714,-19.6),(0.718,-10.5),(0.722,-3.4),(0.726,2.3),(0.730,5.1),(0.734,5.1),(0.739,3.7),(0.743,1.6),(0.747,-2.0),(0.751,-4.1),(0.755,-3.4),(0.759,1.6),(0.763,8.6),(0.768,17.1),(0.772,23.5),(0.776,27.0),(0.780,28.4),(0.784,28.8),(0.788,28.4),(0.793,27.0),(0.797,24.9),(0.801,23.5),(0.805,22.0),(0.809,21.3),(0.813,21.0),(0.817,20.3),(0.822,19.2),(0.826,15.7),(0.830,9.3),(0.834,2.3),(0.838,-6.2),(0.842,-14.7),(0.846,-23.2),(0.851,-31.7),(0.855,-37.3),(0.859,-40.8),(0.863,-41.6),(0.867,-37.3),(0.871,-28.8),(0.876,-20.4),(0.880,-13.3),(0.884,-8.3),(0.888,-5.5),(0.892,-3.7),(0.896,-4.1),(0.900,-4.8),(0.905,-4.1),(0.909,-1.3),(0.913,5.1),(0.917,14.3),(0.921,24.2),(0.925,31.2),(0.929,36.2),(0.934,38.3),(0.938,39.2),(0.942,38.3),(0.946,35.5),(0.950,30.5),(0.954,24.9),(0.959,19.2),(0.963,15.0),(0.967,12.2),(0.971,10.0),(0.975,8.6),(0.979,7.2),(0.983,4.4),(0.988,-0.6),(0.992,-7.6),(0.996,-16.1),(1.000,-25.3),(1.004,-33.1),(1.008,-38.7),(1.012,-41.6),(1.017,-42.6),(1.021,-41.6),(1.025,-37.3),(1.029,-31.0),(1.033,-23.2),(1.037,-15.4),(1.041,-9.0),(1.046,-4.1),(1.050,-1.3),(1.054,0.5),(1.058,0.8),(1.062,0.5),(1.066,-0.2),(1.071,0.1),(1.075,2.3),(1.079,6.5),(1.083,13.6),(1.087,21.3),(1.091,27.0),(1.095,29.8),(1.100,30.5),(1.104,29.8),(1.108,27.0),(1.112,22.8),(1.116,18.5),(1.120,15.0),(1.124,12.2),(1.129,10.0),(1.133,7.9),(1.137,5.8),(1.141,3.7),(1.145,0.1),(1.149,-4.8),(1.154,-11.2),(1.158,-18.2),(1.162,-26.0),(1.166,-32.4),(1.170,-36.6),(1.174,-39.4),(1.178,-40.5),(1.183,-40.1),(1.187,-37.3),(1.191,-31.7),(1.195,-24.6),(1.199,-17.5),(1.203,-11.9),(1.207,-6.9),(1.212,-2.7),(1.216,0.1),(1.220,1.6),(1.224,2.3),(1.228,3.7),(1.232,6.5),(1.237,12.2),(1.241,19.9),(1.245,27.7),(1.249,32.6),(1.253,34.8),(1.257,35.8),(1.261,35.1),(1.266,33.7),(1.270,33.0),(1.274,32.6),(1.278,32.6),(1.282,32.3),(1.286,31.2),(1.291,28.4)]
sig_d2 = [(1.295,27.0),(1.299,20.6),(1.304,12.2),(1.308,2.3),(1.312,-8.3),(1.316,-18.2),(1.320,-26.0),(1.324,-33.1),(1.329,-38.0),(1.333,-40.8),(1.337,-41.9),(1.341,-40.8),(1.345,-35.9),(1.349,-28.8),(1.354,-20.4),(1.358,-13.3),(1.362,-7.6),(1.366,-2.7),(1.370,0.1),(1.374,2.3),(1.379,3.0),(1.383,1.9),(1.387,0.1),(1.391,-0.6),(1.395,0.8),(1.399,5.1),(1.404,10.0),(1.408,15.7),(1.412,20.6),(1.416,23.5),(1.420,24.9),(1.424,25.6),(1.428,25.6),(1.433,25.3),(1.437,24.5),(1.441,23.8),(1.445,23.1),(1.449,22.0),(1.453,19.2),(1.458,15.0),(1.462,9.3),(1.466,2.3),(1.470,-7.6),(1.474,-19.0),(1.478,-27.4),(1.483,-33.8),(1.487,-38.0),(1.491,-40.5),(1.495,-41.6),(1.499,-40.8),(1.503,-37.3),(1.507,-31.0),(1.512,-23.2),(1.516,-16.1),(1.520,-10.5),(1.524,-6.2),(1.528,-3.4),(1.532,-1.3),(1.537,0.5),(1.541,1.6),(1.545,1.9),(1.549,2.3),(1.553,3.7),(1.557,7.2),(1.562,13.6),(1.566,19.9),(1.570,24.9),(1.574,27.0),(1.578,28.1),(1.582,28.8),(1.587,28.4),(1.591,27.3),(1.595,26.3),(1.599,24.9),(1.603,23.5),(1.607,21.3),(1.611,19.2),(1.616,16.4),(1.620,12.2),(1.624,5.1),(1.628,-3.4),(1.632,-13.3),(1.636,-21.8),(1.641,-29.5),(1.645,-35.2),(1.649,-38.7),(1.653,-40.5),(1.657,-40.5),(1.661,-38.7),(1.666,-33.8),(1.670,-27.4),(1.674,-19.6),(1.678,-11.2),(1.682,-4.8),(1.686,-0.6),(1.691,3.0),(1.695,4.0),(1.699,3.0),(1.703,1.6),(1.707,-0.2),(1.711,0.1),(1.715,3.0),(1.720,7.9),(1.724,13.6),(1.728,17.8),(1.732,20.6),(1.736,22.0),(1.740,22.4),(1.745,22.0),(1.749,20.6),(1.753,19.2),(1.757,17.1),(1.761,15.0),(1.765,12.2),(1.770,10.0),(1.774,8.6),(1.778,7.2),(1.782,5.1),(1.786,1.6),(1.790,-3.4),(1.795,-9.0),(1.799,-15.4),(1.803,-21.1),(1.807,-27.4),(1.811,-33.1),(1.815,-38.0),(1.819,-41.6),(1.824,-43.4),(1.828,-42.3),(1.832,-35.9),(1.836,-26.7),(1.840,-17.5),(1.844,-10.5),(1.849,-4.8),(1.853,-1.3),(1.857,-0.6),(1.861,-1.3),(1.865,-2.7),(1.869,-3.4),(1.874,-2.0),(1.878,2.3),(1.882,9.3),(1.886,17.8),(1.890,25.6),(1.894,29.8),(1.899,32.3),(1.903,33.0),(1.907,32.3),(1.911,29.8),(1.915,26.3),(1.919,22.8),(1.923,19.2),(1.928,16.4),(1.932,13.6),(1.936,11.4),(1.940,8.6),(1.944,5.1),(1.948,-0.6),(1.953,-9.0),(1.957,-18.2),(1.961,-26.7),(1.965,-33.8),(1.969,-38.7),(1.973,-42.3),(1.978,-44.4),(1.982,-44.7),(1.986,-42.3),(1.990,-35.9),(1.994,-27.4),(1.998,-18.9),(2.003,-11.2),(2.007,-6.9),(2.011,-5.5),(2.015,-5.9),(2.019,-6.2),(2.023,-6.6),(2.027,-4.8),(2.032,-0.6),(2.036,5.8),(2.040,13.6),(2.044,22.0),(2.048,27.7),(2.052,29.8),(2.057,30.7),(2.061,29.8),(2.065,28.4),(2.069,27.3),(2.073,27.0),(2.077,26.6),(2.082,26.3),(2.086,25.6),(2.090,24.2),(2.094,21.3),(2.098,17.1),(2.102,10.7),(2.107,2.3),(2.111,-6.9),(2.115,-16.1),(2.119,-23.9),(2.123,-31.0),(2.128,-35.9),(2.132,-40.1),(2.136,-42.3),(2.140,-43.4),(2.144,-42.3),(2.148,-37.3),(2.153,-30.2),(2.157,-21.8),(2.161,-14.0),(2.165,-9.0),(2.169,-6.2),(2.173,-4.8),(2.178,-3.0),(2.182,-2.0),(2.186,0.1),(2.190,4.4),(2.194,11.4),(2.198,20.6),(2.203,29.8),(2.207,35.5),(2.211,39.0),(2.215,40.8),(2.219,41.8),(2.223,42.2),(2.228,42.5),(2.232,42.4),(2.236,41.5),(2.240,39.0),(2.244,35.5),(2.248,31.2),(2.253,26.3),(2.257,21.3),(2.261,15.7),(2.265,10.0),(2.269,5.1),(2.273,-0.6),(2.278,-6.2),(2.282,-11.2),(2.286,-15.4),(2.290,-19.6),(2.294,-24.6),(2.298,-28.8),(2.303,-31.0),(2.307,-29.5),(2.311,-23.2),(2.315,-14.7),(2.319,-6.2),(2.323,0.8),(2.328,5.1),(2.332,6.5),(2.336,6.1),(2.340,5.1),(2.344,3.7),(2.348,2.3),(2.353,3.7),(2.357,7.9),(2.361,14.3),(2.365,20.6),(2.369,25.6),(2.373,28.4),(2.378,29.5),(2.382,29.1),(2.386,27.7),(2.390,25.6),(2.394,22.8),(2.398,19.9),(2.403,17.8),(2.407,16.4),(2.411,15.0),(2.415,12.2),(2.419,7.9),(2.423,1.6),(2.428,-7.6),(2.432,-16.8),(2.436,-26.7),(2.440,-34.5),(2.444,-39.4),(2.448,-42.3),(2.453,-43.0),(2.457,-41.6),(2.461,-38.0),(2.465,-32.4),(2.469,-26.0),(2.473,-20.4),(2.478,-15.4),(2.482,-11.9),(2.486,-9.8),(2.490,-8.3),(2.494,-6.9),(2.498,-6.2),(2.503,-4.8),(2.507,-1.3),(2.511,3.7),(2.515,10.0),(2.519,17.1),(2.523,24.2),(2.528,28.4),(2.532,30.5),(2.536,30.5),(2.540,29.1),(2.544,26.3),(2.548,22.8),(2.553,19.9),(2.557,17.8),(2.559,17.0)]

captions = [
    "(a) Original Y-direction swing signal",
    "(b) EMD noise reduction signal",
    "(c) Default parameter VMD noise reduction signal",
    "(d) IPSO-VMD-wavelet denoising signal",
]
y_domains = [[-58.7, 70.4], [-50.7, 48.6], [-51.7, 55.7], [-51.7, 46.8]]
y_ticks = [[-50, 0, 50], [-40, -20, 0, 20, 40], [-50, -25, 0, 25, 50], [-40, -20, 0, 20, 40]]
series = [sig_a1 + sig_a2 + sig_a3, sig_b1 + sig_b2, sig_c1 + sig_c2, sig_d1 + sig_d2]


def panel(points, ydom, yvals, caption):
    df = pd.DataFrame(points, columns=["t", "s"])
    return alt.Chart(df).mark_line(
        color=BLUE, strokeWidth=4, strokeJoin="round", clip=True
    ).encode(
        x=alt.X("t:Q",
                scale=alt.Scale(domain=[0, T_END], nice=False, zero=False),
                axis=alt.Axis(title="t (s)", values=X_TICKS, format=".1f")),
        y=alt.Y("s:Q",
                scale=alt.Scale(domain=ydom, nice=False, zero=False),
                axis=alt.Axis(title="S", values=yvals, format="d",
                              labelExpr="replace(datum.label, '-', '\u2212')")),
        order=alt.Order("t:Q"),
    ).properties(
        width=2772, height=466,
        title=alt.TitleParams(caption, orient="bottom", anchor="middle", frame="group",
                              fontSize=46, font=FONT, fontWeight="normal", color="black",
                              offset=12),
    )


charts = [panel(p, d, v, c) for p, d, v, c in zip(series, y_domains, y_ticks, captions)]

chart = alt.vconcat(*charts, spacing=14).properties(
    padding={"left": 18, "top": 17, "right": 5, "bottom": 5},
    background="white",
).configure_view(
    stroke="black", strokeWidth=2.6
).configure_axis(
    labelFont=FONT, titleFont=FONT, labelFontSize=34, titleFontSize=40,
    labelColor="black", titleColor="black", titleFontWeight="normal",
    tickColor="black", tickSize=10, tickWidth=2.2,
    domain=True, domainColor="black", domainWidth=2.6,
    grid=True, gridColor="#d2d2d2", gridDash=[12, 5], gridWidth=2.4,
    labelFlush=False, labelOverlap=False,
).configure_axisX(
    labelPadding=10, titlePadding=14,
).configure_axisY(
    labelPadding=11, titlePadding=18,
)

chart.save("out.html", embed_options={"renderer": "svg", "actions": False})
